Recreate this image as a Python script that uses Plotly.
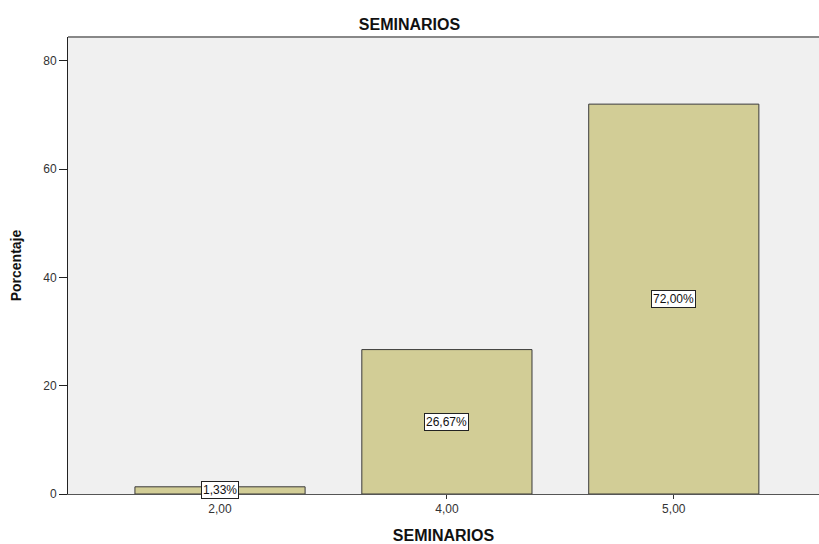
import plotly.graph_objects as go

categories = ["2,00", "4,00", "5,00"]
percentages = [1.33, 26.67, 72.00]
value_labels = ["1,33%", "26,67%", "72,00%"]
y_tick_values = [0, 20, 40, 60, 80]

bar_color = "#D2CD96"
font_family = "Liberation Sans, Arial, sans-serif"

fig = go.Figure()
fig.add_trace(go.Bar(
    x=categories,
    y=percentages,
    width=0.75,
    marker=dict(color=bar_color, line=dict(color="#3a3a3a", width=1)),
    hoverinfo="skip",
))

for cat, val, lab in zip(categories, percentages, value_labels):
    fig.add_annotation(
        x=cat, y=val / 2, text=lab, showarrow=False,
        font=dict(family=font_family, size=12, color="#111"),
        bgcolor="white", bordercolor="#222", borderwidth=1, borderpad=1,
    )

fig.update_layout(
    width=819, height=544,
    margin=dict(l=68, r=0, t=37, b=50, autoexpand=False),
    paper_bgcolor="white",
    plot_bgcolor="#F0F0F0",
    showlegend=False,
    font=dict(family=font_family, size=12, color="#333"),
    title=dict(text="<b>SEMINARIOS</b>", x=0.5, xanchor="center",
               y=1 - 24 / 544, yanchor="middle", yref="container", automargin=False,
               font=dict(family=font_family, size=16, color="#111")),
    xaxis=dict(
        type="category", range=[-0.67, 2.64], automargin=False,
        showline=True, linecolor="#555", linewidth=1,
        ticks="outside", ticklen=4, tickcolor="#333",
        showgrid=False, zeroline=False,
        title=dict(text="<b>SEMINARIOS</b>", font=dict(family=font_family, size=16, color="#111"), standoff=16),
        tickfont=dict(family=font_family, size=12, color="#333"),
    ),
    yaxis=dict(
        range=[0, 84.4], tickvals=y_tick_values, automargin=False,
        showline=True, linecolor="#222", linewidth=1,
        ticks="outside", ticklen=8, tickcolor="#222",
        showgrid=False, zeroline=False,
        title=dict(text="<b>Porcentaje</b>", font=dict(family=font_family, size=14, color="#111"), standoff=18),
        tickfont=dict(family=font_family, size=12, color="#333"),
    ),
)

fig.add_shape(type="line", xref="paper", yref="paper", x0=0, x1=1, y0=1, y1=1,
              line=dict(color="#888", width=2))

fig.write_html("out.html", config={"displayModeBar": False},
               post_script="document.body.style.margin='0px';")
